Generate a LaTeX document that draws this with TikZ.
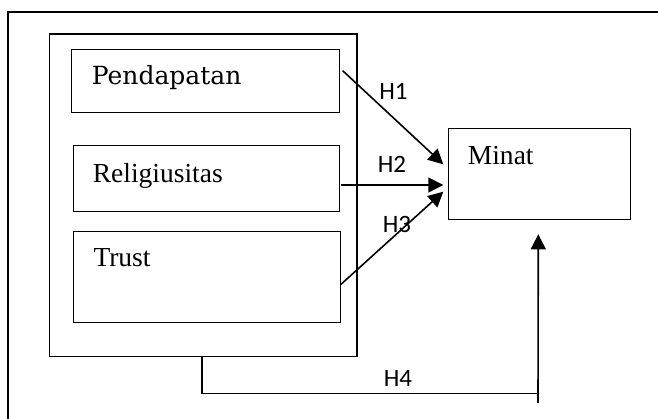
\documentclass[tikz,border=0pt]{standalone}
\usepackage{fontspec}
\setmainfont{Liberation Serif}
\newfontfamily\hfont{Carlito}
\newfontfamily\slabfont{DejaVu Serif}
\usetikzlibrary{arrows.meta,calc}
\begin{document}
\begin{tikzpicture}[x=1pt,y=-1pt,
  frameline/.style={line width=1.6pt},
  box/.style={draw, line width=1pt, anchor=north west, inner sep=0pt},
  lbl/.style={font=\fontsize{27.5}{33}\selectfont, anchor=base west, inner sep=0pt},
  hl/.style={font=\hfont\fontsize{25}{30}\selectfont, inner sep=0pt},
  conn/.style={line width=1.6pt},
  arr/.style={line width=1.6pt, -{Triangle[length=15pt,width=15pt]}}]
\useasboundingbox (0,0) rectangle (658,419);
% outer frame (cropped)
\draw[frameline] (8,419) -- (8,12) -- (658,12);
% big box
\node[box, line width=1.7pt, minimum width=307.5pt, minimum height=322pt] (big) at (48.5,33.5) {};
% inner boxes
\node[box, minimum width=268.6pt, minimum height=62.7pt] (pend) at (70.7,49) {};
\node[lbl, font=\slabfont\fontsize{25}{30}\selectfont] (pendt) at (91.7,85) {Pendapatan};
\node[box, minimum width=266pt, minimum height=66pt] (rel) at (72.7,145.3) {};
\node[lbl] (relt) at (92.7,182.7) {Religiusitas};
\node[box, minimum width=266.5pt, minimum height=91pt] (tru) at (73,231) {};
\node[lbl] (trut) at (93.3,267) {Trust};
% Minat
\node[box, minimum width=182.3pt, minimum height=91pt] (min) at (447.7,128.3) {};
\node[lbl] (mint) at (467.7,165) {Minat};
% arrow coordinates
\coordinate (s1) at (342.7,70.7);
\coordinate (e1) at (443.3,164.3);
\coordinate (s2) at (341,185);
\coordinate (e2) at (443.3,185);
\coordinate (s3) at (341,284.3);
\coordinate (e3) at (443.3,191.7);
\draw[arr] (s1) -- (e1);
\draw[arr] (s2) -- (e2);
\draw[arr] (s3) -- (e3);
\node[hl] (h1) at (393.5,91.7) {H1};
\node[hl] (h2) at (392,164) {H2};
\node[hl] (h3) at (397,224) {H3};
% H4
\coordinate (h4s) at ($(big.south west)+(153.5,0)$);
\coordinate (h4c) at (202,393.5);
\coordinate (h4e) at (539,393.5);
\coordinate (h4t) at (538,403);
\coordinate (h4tip) at (538.3,234.3);
\draw[conn] (h4s) -- (h4c) -- (h4e);
\draw[arr] (h4t) -- (h4tip);
\node[hl] (h4) at (398,378) {H4};
\end{tikzpicture}
\end{document}
